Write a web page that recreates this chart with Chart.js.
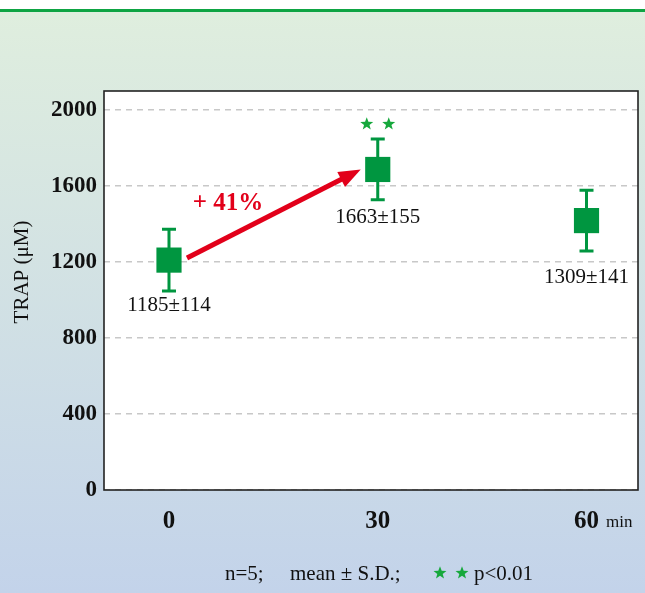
<!DOCTYPE html>
<html>
<head>
<meta charset="utf-8">
<script src="https://cdn.jsdelivr.net/npm/chart.js@4.4.1/dist/chart.umd.min.js"></script>
<style>
  html, body { margin: 0; padding: 0; background: #fff; }
  canvas { display: block; }
</style>
</head>
<body>
<canvas id="trapChart" width="645" height="593"></canvas>
<script>
// values
const timeMin = [0, 30, 60]
const meanTrap = [1210, 1687, 1418]
const sdTrap = [163, 160, 160]
const meanText = [1185, 1663, 1309]
const sdText = [114, 155, 141]
const xTicks = [0, 30, 60]
const yTicks = [0, 400, 800, 1200, 1600, 2000]

const GREEN = '#009640'
const SERIF = '"Liberation Serif", "DejaVu Serif", serif'

function star(ctx, cx, cy, r) {
    ctx.beginPath()
    for (let i = 0; i < 10; i++) {
        const rad = i % 2 === 0 ? r : r * 0.42
        const a = -Math.PI / 2 + i * Math.PI / 5
        ctx.lineTo(cx + rad * Math.cos(a), cy + rad * Math.sin(a))
    }
    ctx.closePath()
    ctx.fill()
}

const decorations = {
    id: 'decorations',
    beforeDraw(chart) {
        const { ctx, width, height, chartArea: a } = chart
        ctx.save()
        ctx.fillStyle = '#ffffff'
        ctx.fillRect(0, 0, width, height)
        const g = ctx.createLinearGradient(0, 12, 0, height)
        g.addColorStop(0, '#dfeede')
        g.addColorStop(1, '#c3d3ea')
        ctx.fillStyle = g
        ctx.fillRect(0, 12, width, height - 12)
        ctx.fillStyle = '#0ea443'
        ctx.fillRect(0, 9, width, 3)
        ctx.fillStyle = '#ffffff'
        ctx.fillRect(a.left, a.top, a.right - a.left, a.bottom - a.top)
        ctx.restore()
    },
    beforeDatasetsDraw(chart) {
        const { ctx, scales: { x, y } } = chart
        ctx.save()
        ctx.strokeStyle = GREEN
        ctx.lineWidth = 3
        timeMin.forEach((t, i) => {
            const px = x.getPixelForValue(t)
            const top = y.getPixelForValue(meanTrap[i] + sdTrap[i])
            const bot = y.getPixelForValue(meanTrap[i] - sdTrap[i])
            ctx.beginPath()
            ctx.moveTo(px, top); ctx.lineTo(px, bot)
            ctx.moveTo(px - 7, top); ctx.lineTo(px + 7, top)
            ctx.moveTo(px - 7, bot); ctx.lineTo(px + 7, bot)
            ctx.stroke()
        })
        ctx.restore()
    },
    afterDatasetsDraw(chart, args, opts) {
        const { ctx, chartArea: a, scales: { x, y } } = chart
        ctx.save()

        // value labels under each point
        ctx.fillStyle = '#111'
        ctx.font = '21px ' + SERIF
        ctx.textAlign = 'center'
        ctx.textBaseline = 'middle'
        timeMin.forEach((t, i) => {
            const px = x.getPixelForValue(t)
            const py = y.getPixelForValue(meanTrap[i] - sdTrap[i])
            ctx.fillText(meanText[i] + '\u00b1' + sdText[i], px, py + opts.labelGap[i])
        })

        // arrow 0 -> 30 min
        const x0 = x.getPixelForValue(timeMin[0]) + 18
        const y0 = y.getPixelForValue(meanTrap[0]) - 2
        const x1 = x.getPixelForValue(timeMin[1]) - 17
        const y1 = y.getPixelForValue(meanTrap[1])
        const ang = Math.atan2(y1 - y0, x1 - x0)
        const head = 22
        const bx = x1 - head * Math.cos(ang), by = y1 - head * Math.sin(ang)
        ctx.strokeStyle = '#e2001a'
        ctx.fillStyle = '#e2001a'
        ctx.lineWidth = 5
        ctx.beginPath()
        ctx.moveTo(x0, y0)
        ctx.lineTo(bx + 2 * Math.cos(ang), by + 2 * Math.sin(ang))
        ctx.stroke()
        ctx.beginPath()
        ctx.moveTo(x1, y1)
        ctx.lineTo(bx + 8.5 * Math.sin(ang), by - 8.5 * Math.cos(ang))
        ctx.lineTo(bx - 8.5 * Math.sin(ang), by + 8.5 * Math.cos(ang))
        ctx.closePath()
        ctx.fill()

        ctx.font = 'bold 25px ' + SERIF
        ctx.fillText('+ 41%', 228, 204)

        // significance stars above 30 min
        ctx.fillStyle = '#16a83c'
        const sx = x.getPixelForValue(timeMin[1])
        star(ctx, sx - 11, 124, 6.8)
        star(ctx, sx + 11, 124, 6.8)

        // frame
        ctx.strokeStyle = '#222'
        ctx.lineWidth = 1.6
        ctx.strokeRect(a.left, a.top, a.right - a.left, a.bottom - a.top)
        ctx.restore()
    },
    afterDraw(chart) {
        const { ctx } = chart
        ctx.save()
        ctx.fillStyle = '#111'
        ctx.textBaseline = 'middle'

        ctx.font = '17px ' + SERIF
        ctx.textAlign = 'left'
        ctx.fillText('min', 606, 523)

        ctx.save()
        ctx.translate(22, 272)
        ctx.rotate(-Math.PI / 2)
        ctx.textAlign = 'center'
        ctx.font = '21px ' + SERIF
        ctx.fillText('TRAP (\u03bcM)', 0, 0)
        ctx.restore()

        ctx.font = '21px ' + SERIF
        ctx.textAlign = 'left'
        ctx.fillText('n=5;', 225, 574)
        ctx.fillText('mean \u00b1 S.D.;', 290, 574)
        ctx.fillText('p<0.01', 474, 574)
        ctx.fillStyle = '#16a83c'
        star(ctx, 440, 573, 6.8)
        star(ctx, 462, 573, 6.8)
        ctx.restore()
    }
}

new Chart(document.getElementById('trapChart'), {
    type: 'scatter',
    data: {
        datasets: [{
            data: timeMin.map((t, i) => ({ x: t, y: meanTrap[i] })),
            pointStyle: 'rect',
            pointRadius: 17.8,
            pointHoverRadius: 17.8,
            backgroundColor: GREEN,
            borderWidth: 0
        }]
    },
    options: {
        responsive: false,
        devicePixelRatio: 1,
        animation: false,
        layout: { autoPadding: false, padding: { top: 91, right: 7, bottom: 0, left: 0 } },
        plugins: {
            legend: { display: false },
            tooltip: { enabled: false },
            decorations: { labelGap: [14, 18, 27] }
        },
        scales: {
            x: {
                type: 'linear',
                min: -9.34,
                max: 67.4,
                afterBuildTicks: scale => { scale.ticks = xTicks.map(v => ({ value: v })) },
                afterFit: scale => { scale.height = 103 },
                grid: { display: false, drawTicks: false },
                border: { display: false },
                ticks: {
                    padding: 17,
                    color: '#111',
                    font: { family: SERIF, size: 25, weight: 'bold' },
                    callback: v => String(v)
                }
            },
            y: {
                min: 0,
                max: 2100,
                afterBuildTicks: scale => { scale.ticks = yTicks.map(v => ({ value: v })) },
                afterFit: scale => { scale.width = 104 },
                grid: { color: '#c8c8c8', lineWidth: 1.5, drawTicks: false },
                border: { display: false, dash: [6, 5] },
                ticks: {
                    padding: 7,
                    color: '#111',
                    font: { family: SERIF, size: 23, weight: 'bold' },
                    callback: v => String(v)
                }
            }
        }
    },
    plugins: [decorations]
})
</script>
</body>
</html>
